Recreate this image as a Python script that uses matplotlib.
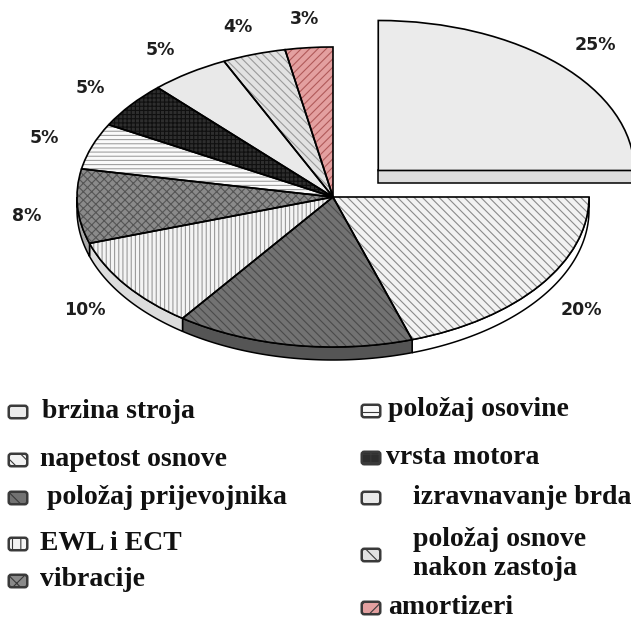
import numpy as np
import matplotlib
matplotlib.use("Agg")
import matplotlib.pyplot as plt
from matplotlib.patches import Polygon, FancyBboxPatch

# ---- data ----
categories = ["brzina stroja", "napetost osnove", "položaj prijevojnika", "EWL i ECT",
              "vibracije", "položaj osovine", "vrsta motora", "izravnavanje brda",
              "položaj osnove\nnakon zastoja", "amortizeri"]
values = [25, 20, 15, 10, 8, 5, 5, 5, 4, 3]
pct_labels = ["25%", "20%", "", "10%", "8%", "5%", "5%", "5%", "4%", "3%"]
explode = [0.25, 0, 0, 0, 0, 0, 0, 0, 0, 0]

# ---- styles ----
faces = ["#ebebeb", "#f2f2f2", "#727272", "#f4f4f4", "#8a8a8a",
         "#fafafa", "#2e2e2e", "#e9e9e9", "#e2e2e2", "#e3a0a0"]
hatches = [None, "\\\\\\\\", "\\\\\\\\", "||||", "xxxx",
           "----", "++++", None, "\\\\\\\\", "////"]
hatch_cols = ["#ebebeb", "#8a8a8a", "#4a4a4a", "#9a9a9a", "#555555",
              "#a0a0a0", "#101010", "#e9e9e9", "#9a9a9a", "#b05a5a"]
sides = ["#dcdcdc", "#ffffff", "#555555", "#dcdcdc", "#aaaaaa",
         "#dddddd", "#333333", "#dddddd", "#cccccc", "#d08080"]

plt.rcParams["hatch.linewidth"] = 0.8

W, H = 631, 621
fig = plt.figure(figsize=(W / 100, H / 100), dpi=100)
ax = fig.add_axes([0, 0, 1, 1])

cx, cy, a, b = 333, 197, 256, 150   # pixel center and semi axes
depth = 13 / b

# filled + hatched tops
wedges, _ = ax.pie(values, explode=explode, startangle=90, counterclock=False,
                   radius=1.0, wedgeprops=dict(linewidth=0))
for w, fc, h, hc in zip(wedges, faces, hatches, hatch_cols):
    w.set_facecolor(fc)
    w.set_edgecolor(hc)
    w.set_linewidth(0)
    if h:
        w.set_hatch(h)
    w.set_zorder(2)

# outlines + percentage labels
owedges, texts = ax.pie(values, explode=explode, startangle=90, counterclock=False,
                        radius=1.0, labels=pct_labels, labeldistance=1.2,
                        wedgeprops=dict(fill=False, edgecolor="black", linewidth=1.2),
                        textprops=dict(fontsize=12.5, fontweight="heavy",
                                       family="DejaVu Sans", color="#1e1e1e"))
for w in owedges:
    w.set_zorder(3)
for t in texts:
    t.set_ha("center")
    t.set_va("center")
    x, y = t.get_position()
    if y < 0:
        t.set_position((x, y - 0.05))
    else:
        t.set_position((x, y - 0.01))

# side walls
for w, sc, ex in zip(owedges, sides, explode):
    t1, t2 = np.deg2rad(w.theta1), np.deg2rad(w.theta2)
    ox, oy = w.center
    s1 = t1 if t1 >= 0 else t1 + 2 * np.pi
    s2 = s1 + (t2 - t1)
    lo, hi = max(s1, np.pi), min(s2, 2 * np.pi)
    if hi > lo:
        tt = np.linspace(lo, hi, 80)
        top = np.c_[ox + np.cos(tt), oy + np.sin(tt)]
        bot = np.c_[ox + np.cos(tt[::-1]), oy + np.sin(tt[::-1]) - depth]
        ax.add_patch(Polygon(np.r_[top, bot], closed=True, facecolor=sc,
                             edgecolor="black", linewidth=1.1, zorder=1))
    if abs(s1 % (2 * np.pi)) < 1e-6 and ex > 0:
        rect = [(ox, oy), (ox + 1, oy), (ox + 1, oy - depth), (ox, oy - depth)]
        ax.add_patch(Polygon(rect, closed=True, facecolor=sc, edgecolor="black",
                             linewidth=1.1, zorder=1))

ax.set_aspect("auto")
ax.set_xlim((0 - cx) / a, (W - cx) / a)
ax.set_ylim((cy - H) / b, cy / b)
ax.axis("off")

# ---- legend (manual) ----
col_x = [10, 363]
text_x = [[42, 40, 47, 40, 40], [388, 386, 413, 413, 388]]
row_y = [[411, 459, 497, 543, 580], [410, 457, 497, 554, 607]]
for i, lab in enumerate(categories):
    c, r = divmod(i, 5)
    mx, my = col_x[c], row_y[c][r]
    box = FancyBboxPatch((mx / W, 1 - (my + 6) / H), 16 / W, 10 / H,
                         boxstyle="round,pad=0.002,rounding_size=0.004",
                         transform=fig.transFigure, facecolor=faces[i],
                         edgecolor="#3a3a3a", linewidth=1.8, zorder=5)
    if hatches[i]:
        box.set_hatch(hatches[i][:2])
    fig.patches.append(box)
    fig.text(text_x[c][r] / W, 1 - my / H, lab, ha="left", va="center",
             family="Liberation Serif", fontweight="bold", fontsize=20,
             color="#111111", linespacing=1.25)

fig.savefig("out.png", dpi=100)
